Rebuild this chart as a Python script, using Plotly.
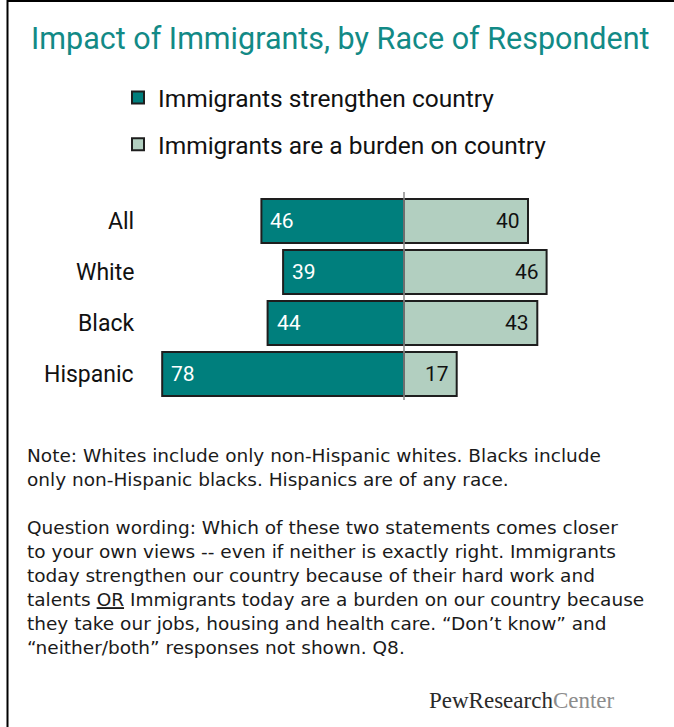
import plotly.graph_objects as go

# Survey results (percent)
groups = ["All", "White", "Black", "Hispanic"]
strengthen = [46, 39, 44, 78]
burden = [40, 46, 43, 17]

series_names = ["Immigrants strengthen country", "Immigrants are a burden on country"]
teal = "#007f7d"
sage = "#b2cfc0"
outline = "#1e1e1e"

W, H = 674, 727
FONT = "Roboto"
NOTE_FONT = "DejaVu Sans"

fig = go.Figure()

# Left-hand bars are plotted as negative values so they extend from the centre line
fig.add_trace(go.Bar(
    y=groups, x=[-v for v in strengthen], orientation="h",
    name=series_names[0], legendgroup="a",
    marker=dict(color=teal, line=dict(color=outline, width=2)),
    width=0.86, hoverinfo="skip",
))
fig.add_trace(go.Bar(
    y=groups, x=burden, orientation="h",
    name=series_names[1], legendgroup="b",
    marker=dict(color=sage, line=dict(color=outline, width=2)),
    width=0.86, hoverinfo="skip",
))

# Value labels just inside the outer end of each bar
for g, v in zip(groups, strengthen):
    fig.add_annotation(x=-v, xref="x", y=g, yref="y", text=str(v), showarrow=False,
                       xanchor="left", yanchor="middle", xshift=7,
                       font=dict(family=FONT, size=21, color="white"))
for g, v in zip(groups, burden):
    fig.add_annotation(x=v, xref="x", y=g, yref="y", text=str(v), showarrow=False,
                       xanchor="right", yanchor="middle", xshift=-6,
                       font=dict(family=FONT, size=21, color="#111111"))

# Category labels to the left of the bars
for g in groups:
    fig.add_annotation(
        x=136 / W, xref="paper", y=g, yref="y",
        text=g, showarrow=False, xanchor="right", yanchor="middle",
        font=dict(family=FONT, size=23, color="#111111"),
    )

# Centre divider
fig.add_shape(type="line", xref="x", yref="y", x0=0, x1=0, y0=-0.57, y1=3.51,
              line=dict(color="#8a8a8a", width=1.5), layer="above")

# Frame lines along the top and left edges
fig.add_shape(type="line", xref="paper", yref="paper", x0=7.5 / W, x1=1, y0=1 - 1 / H, y1=1 - 1 / H,
              line=dict(color="black", width=2))
fig.add_shape(type="line", xref="paper", yref="paper", x0=7.5 / W, x1=7.5 / W, y0=0, y1=1,
              line=dict(color="black", width=2))

# Title
fig.add_annotation(
    x=29 / W, xref="paper", y=1 - 39 / H, yref="paper",
    text="Impact of Immigrants, by Race of Respondent", showarrow=False,
    xanchor="left", yanchor="middle",
    font=dict(family=FONT, size=30.5, color="#128a86"),
)

note = ("Note: Whites include only non-Hispanic whites. Blacks include<br>"
        "only non-Hispanic blacks. Hispanics are of any race.")
wording = ("Question wording: Which of these two statements comes closer<br>"
           "to your own views -- even if neither is exactly right. Immigrants<br>"
           "today strengthen our country because of their hard work and<br>"
           "talents <u>OR</u> Immigrants today are a burden on our country because<br>"
           "they take our jobs, housing and health care. \u201cDon\u2019t know\u201d and<br>"
           "\u201cneither/both\u201d responses not shown. Q8.")

fig.add_annotation(
    x=25 / W, xref="paper", y=1 - 443 / H, yref="paper",
    text=note, showarrow=False, xanchor="left", yanchor="top", align="left",
    font=dict(family=NOTE_FONT, size=18.5, color="#1a1a1a"),
)
fig.add_annotation(
    x=25 / W, xref="paper", y=1 - 515 / H, yref="paper",
    text=wording, showarrow=False, xanchor="left", yanchor="top", align="left",
    font=dict(family=NOTE_FONT, size=18.5, color="#1a1a1a"),
)

# Source logo
fig.add_annotation(
    x=617 / W, xref="paper", y=1 - 700 / H, yref="paper",
    text="PewResearch<span style='color:#8c8c8c'>Center</span>", showarrow=False,
    xanchor="right", yanchor="middle",
    font=dict(family="Liberation Serif", size=23, color="#2a2a2a"),
)

px_per_unit = 3.1
center_px = 404
row_px = 51
first_row_px = 221

fig.update_layout(
    width=W, height=H,
    margin=dict(l=0, r=0, t=0, b=0),
    paper_bgcolor="white", plot_bgcolor="white",
    barmode="relative",
    showlegend=True,
    legend=dict(
        x=118 / W, y=1 - 75 / H, xanchor="left", yanchor="top",
        font=dict(family=FONT, size=24.5, color="#111111"),
        tracegroupgap=12, traceorder="grouped",
        bgcolor="rgba(0,0,0,0)",
    ),
    xaxis=dict(
        range=[-center_px / px_per_unit, (W - center_px) / px_per_unit],
        visible=False, fixedrange=True,
    ),
    yaxis=dict(
        type="category", categoryorder="array", categoryarray=groups,
        range=[3 + (H - (first_row_px + 3 * row_px)) / row_px, -first_row_px / row_px],
        visible=False, fixedrange=True,
    ),
)

fig.write_html("out.html")
